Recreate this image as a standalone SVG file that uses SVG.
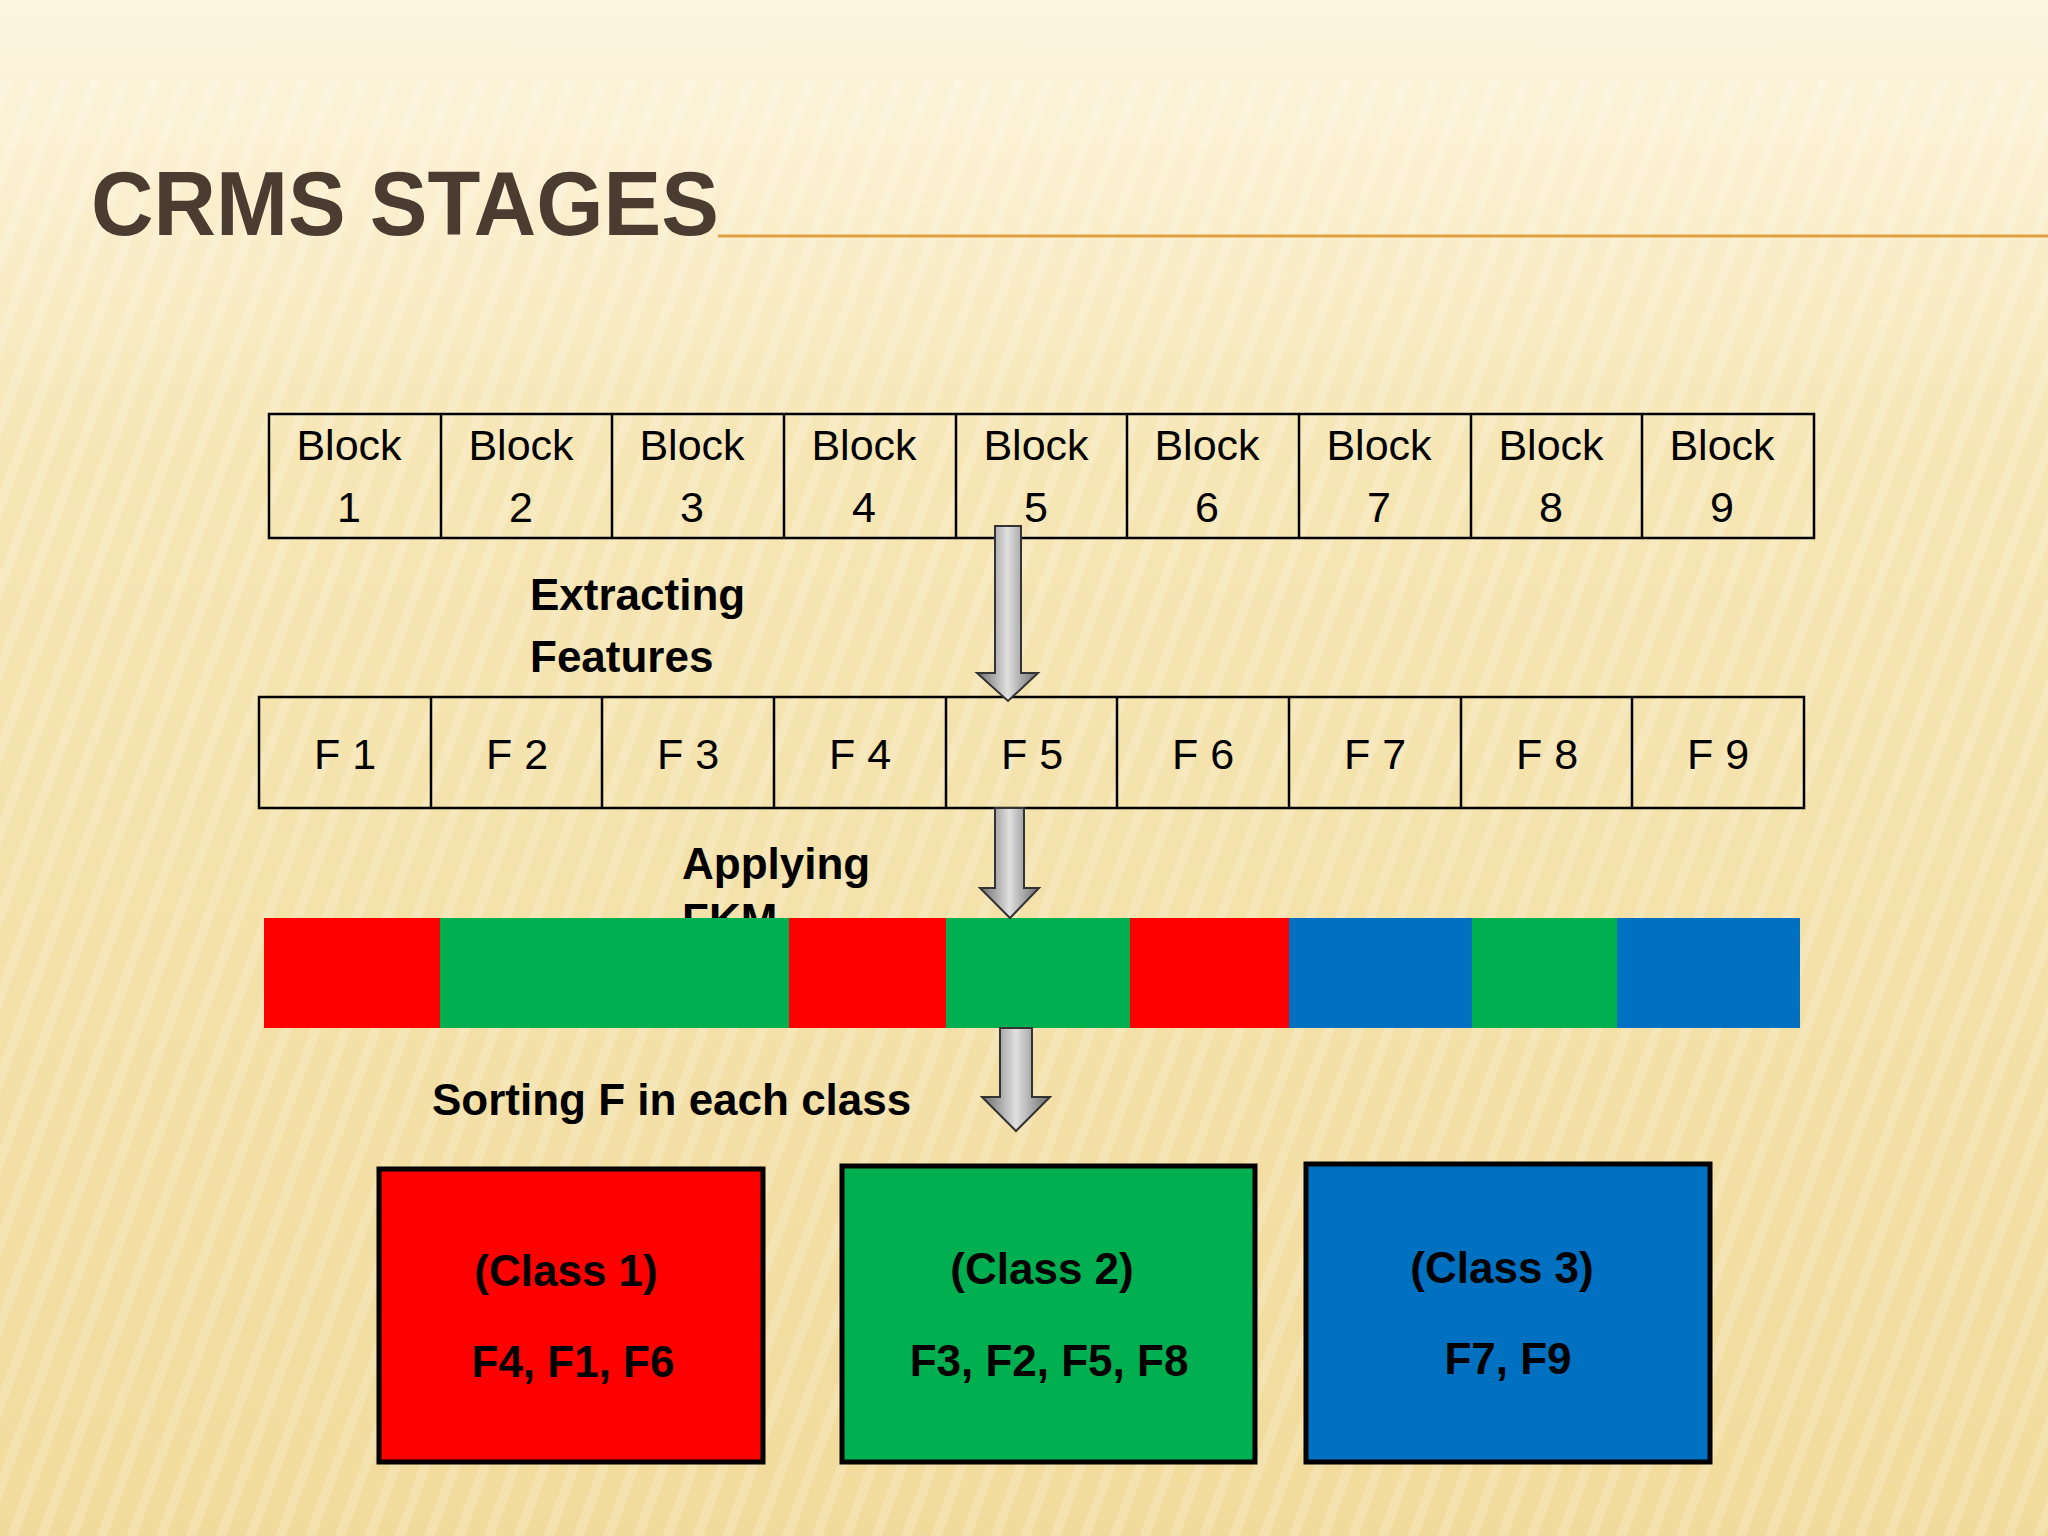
<svg xmlns="http://www.w3.org/2000/svg" width="2048" height="1536" viewBox="0 0 2048 1536">
<defs>
<linearGradient id="bg" x1="0" y1="0" x2="0" y2="1"><stop offset="0" stop-color="#FDF5E0"/><stop offset="0.3" stop-color="#F6E6B5"/><stop offset="1" stop-color="#F1DB9C"/></linearGradient>
<pattern id="stripes" width="28" height="28" patternUnits="userSpaceOnUse" patternTransform="rotate(20)"><rect width="10" height="28" fill="#ffffff" opacity="0.18"/></pattern>
<linearGradient id="arr" x1="0" y1="0" x2="1" y2="0"><stop offset="0" stop-color="#6a6a6a"/><stop offset="0.5" stop-color="#e0e0e0"/><stop offset="1" stop-color="#6a6a6a"/></linearGradient>
<style>
.cell{fill:none;stroke:#000;stroke-width:2.5}
.t{font-family:"Liberation Sans",Arial,sans-serif;font-size:43px;fill:#000;text-anchor:middle}
.b{font-family:"Liberation Sans",Arial,sans-serif;font-size:44px;font-weight:bold;fill:#000}
.box{stroke:#000;stroke-width:5}
.ar{fill:url(#arr);stroke:#333;stroke-width:2}
</style>
</defs>
<rect width="2048" height="1536" fill="url(#bg)"/>
<rect y="80" width="2048" height="1456" fill="url(#stripes)"/>
<text x="91" y="235" font-family="'Liberation Sans',Arial,sans-serif" font-size="90" fill="#4A3C30" font-weight="bold" textLength="628" lengthAdjust="spacingAndGlyphs">CRMS STAGES</text>
<line x1="718" y1="236" x2="2048" y2="236" stroke="#E0A040" stroke-width="3"/>
<g id="blocks">
<rect class="cell" x="269" y="414" width="1545" height="124"/>
<g stroke="#000" stroke-width="2.5"><line x1="441" y1="414" x2="441" y2="538"/><line x1="612" y1="414" x2="612" y2="538"/><line x1="784" y1="414" x2="784" y2="538"/><line x1="956" y1="414" x2="956" y2="538"/><line x1="1127" y1="414" x2="1127" y2="538"/><line x1="1299" y1="414" x2="1299" y2="538"/><line x1="1471" y1="414" x2="1471" y2="538"/><line x1="1642" y1="414" x2="1642" y2="538"/></g>
<text class="t" x="349" y="460">Block</text><text class="t" x="349" y="522">1</text>
<text class="t" x="521" y="460">Block</text><text class="t" x="521" y="522">2</text>
<text class="t" x="692" y="460">Block</text><text class="t" x="692" y="522">3</text>
<text class="t" x="864" y="460">Block</text><text class="t" x="864" y="522">4</text>
<text class="t" x="1036" y="460">Block</text><text class="t" x="1036" y="522">5</text>
<text class="t" x="1207" y="460">Block</text><text class="t" x="1207" y="522">6</text>
<text class="t" x="1379" y="460">Block</text><text class="t" x="1379" y="522">7</text>
<text class="t" x="1551" y="460">Block</text><text class="t" x="1551" y="522">8</text>
<text class="t" x="1722" y="460">Block</text><text class="t" x="1722" y="522">9</text>
</g>
<g id="features">
<rect class="cell" x="259" y="697" width="1545" height="111"/>
<g stroke="#000" stroke-width="2.5"><line x1="431" y1="697" x2="431" y2="808"/><line x1="602" y1="697" x2="602" y2="808"/><line x1="774" y1="697" x2="774" y2="808"/><line x1="946" y1="697" x2="946" y2="808"/><line x1="1117" y1="697" x2="1117" y2="808"/><line x1="1289" y1="697" x2="1289" y2="808"/><line x1="1461" y1="697" x2="1461" y2="808"/><line x1="1632" y1="697" x2="1632" y2="808"/></g>
<text class="t" x="345" y="769">F 1</text><text class="t" x="517" y="769">F 2</text><text class="t" x="688" y="769">F 3</text><text class="t" x="860" y="769">F 4</text><text class="t" x="1032" y="769">F 5</text><text class="t" x="1203" y="769">F 6</text><text class="t" x="1375" y="769">F 7</text><text class="t" x="1547" y="769">F 8</text><text class="t" x="1718" y="769">F 9</text>
</g>
<text class="b" x="530" y="610">Extracting</text>
<text class="b" x="530" y="672">Features</text>
<text class="b" x="682" y="879">Applying</text>
<text class="b" x="682" y="935">FKM</text>
<g id="bar">
<rect x="264" y="918" width="176" height="110" fill="#FF0000"/>
<rect x="440" y="918" width="349" height="110" fill="#00B050"/>
<rect x="789" y="918" width="157" height="110" fill="#FF0000"/>
<rect x="946" y="918" width="184" height="110" fill="#00B050"/>
<rect x="1130" y="918" width="159" height="110" fill="#FF0000"/>
<rect x="1289" y="918" width="183" height="110" fill="#0070C0"/>
<rect x="1472" y="918" width="145" height="110" fill="#00B050"/>
<rect x="1617" y="918" width="183" height="110" fill="#0070C0"/>
</g>
<g id="connectors">
<path class="ar" d="M995,526 H1021 V673 H1038 L1008,701 L977,673 H995 Z"/>
<path class="ar" d="M995,808 H1024 V888 H1039 L1010,918 L980,888 H995 Z"/>
<path class="ar" d="M1000,1028 H1032 V1097 H1050 L1016,1131 L982,1097 H1000 Z"/>
</g>
<text class="b" x="432" y="1115">Sorting F in each class</text>
<g id="class1"><rect class="box" x="379" y="1169" width="384" height="293" fill="#FF0000"/><text class="b" x="566" y="1286" text-anchor="middle">(Class 1)</text><text class="b" x="573" y="1377" text-anchor="middle">F4, F1, F6</text></g>
<g id="class2"><rect class="box" x="842" y="1166" width="413" height="296" fill="#00B050"/><text class="b" x="1042" y="1284" text-anchor="middle">(Class 2)</text><text class="b" x="1049" y="1376" text-anchor="middle">F3, F2, F5, F8</text></g>
<g id="class3"><rect class="box" x="1306" y="1164" width="404" height="298" fill="#0070C0"/><text class="b" x="1502" y="1283" text-anchor="middle">(Class 3)</text><text class="b" x="1508" y="1374" text-anchor="middle">F7, F9</text></g>
</svg>
